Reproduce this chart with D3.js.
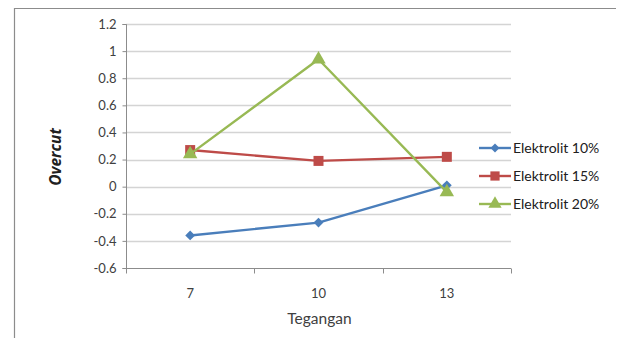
<!DOCTYPE html>
<html>
<head>
<meta charset="utf-8">
<script src="https://cdn.jsdelivr.net/npm/d3@7"></script>
<style>
  body { margin: 0; background: #fff; }
  svg { display: block; font-family: Lato, "Open Sans", sans-serif; }
</style>
</head>
<body>
<svg id="chart" width="618" height="338"></svg>
<script>
// Voltage levels (x categories)
const categories = ["7", "10", "13"];
// Overcut per electrolyte concentration
const elektrolit10 = [-0.36, -0.265, 0.01];
const elektrolit15 = [0.27, 0.19, 0.22];
const elektrolit20 = [0.24, 0.94, -0.04];
const seriesNames = ["Elektrolit 10%", "Elektrolit 15%", "Elektrolit 20%"];
const yTicks = [-0.6, -0.4, -0.2, 0, 0.2, 0.4, 0.6, 0.8, 1, 1.2];
const yTickLabels = ["-0.6", "-0.4", "-0.2", "0", "0.2", "0.4", "0.6", "0.8", "1", "1.2"];

const seriesValues = [elektrolit10, elektrolit15, elektrolit20];
const colors = ["#4a7ebb", "#be4b48", "#98b954"];
const symbols = [d3.symbolSquare, d3.symbolSquare, d3.symbolTriangle];
const symbolSizes = [48, 100, 90];
const symbolRot = [45, 0, 0];

const svg = d3.select("#chart");

// outer chart frame
svg.append("path")
  .attr("d", "M14.5,340 V8.5 H616")
  .attr("fill", "none").attr("stroke", "#8c8c8c").attr("stroke-width", 1.2);

const plot = { left: 126, right: 511, top: 24, bottom: 268 };

const x = d3.scaleBand().domain(categories).range([plot.left, plot.right]);
const y = d3.scaleLinear().domain([-0.6, 1.2]).range([plot.bottom, plot.top]);

// horizontal gridlines
svg.append("g")
  .selectAll("line").data(yTicks.filter(t => t !== -0.6)).join("line")
  .attr("x1", plot.left).attr("x2", plot.right)
  .attr("y1", d => Math.round(y(d)) + 0.5).attr("y2", d => Math.round(y(d)) + 0.5)
  .attr("stroke", "#d4d4d4").attr("stroke-width", 1.3);

// y axis
const yAxis = svg.append("g")
  .attr("transform", `translate(${plot.left + 0.5},0)`)
  .call(d3.axisLeft(y).tickValues(yTicks).tickSize(4).tickPadding(6)
    .tickFormat((d, i) => yTickLabels[i]));
yAxis.select(".domain").attr("stroke", "#8c8c8c").attr("d", `M-4,${plot.top + 0.5}H0V${plot.bottom + 0.5}H-4`);
yAxis.selectAll(".tick line").attr("stroke", "#8c8c8c");
yAxis.selectAll("text").attr("fill", "#404040").style("font-size", "13px").style("font-family", "Lato, sans-serif");

// x axis with ticks on category boundaries
const xg = svg.append("g").attr("transform", `translate(0,${plot.bottom + 0.5})`);
xg.append("line").attr("x1", plot.left).attr("x2", plot.right)
  .attr("stroke", "#8c8c8c");
const bounds = categories.map(c => x(c)).concat([plot.right]);
xg.selectAll("line.tk").data(bounds).join("line").attr("class", "tk")
  .attr("x1", d => Math.round(d) + 0.5).attr("x2", d => Math.round(d) + 0.5)
  .attr("y1", 0).attr("y2", 5).attr("stroke", "#8c8c8c");
xg.selectAll("text").data(categories).join("text")
  .attr("x", d => x(d) + x.bandwidth() / 2).attr("y", 29)
  .attr("text-anchor", "middle").attr("fill", "#404040")
  .style("font-size", "13px").text(d => d);

// axis titles
svg.append("text").attr("x", x("10") + x.bandwidth() / 2 + 1).attr("y", 324)
  .attr("text-anchor", "middle").attr("fill", "#404040")
  .style("font-size", "15.5px").text("Tegangan");
svg.append("text").attr("transform", "translate(61,157) rotate(-90)")
  .attr("text-anchor", "middle").attr("fill", "#202020")
  .style("font-family", "'Open Sans', sans-serif")
  .style("font-size", "15.5px").style("font-weight", "bold").style("font-style", "italic")
  .text("Overcut");

// series lines and markers
const line = d3.line().x((d, i) => x(categories[i]) + x.bandwidth() / 2).y(d => y(d));
seriesValues.forEach((vals, s) => {
  const g = svg.append("g");
  g.append("path").datum(vals).attr("d", line)
    .attr("fill", "none").attr("stroke", colors[s]).attr("stroke-width", 2.4)
    .attr("stroke-linejoin", "round");
  g.selectAll("path.m").data(vals).join("path").attr("class", "m")
    .attr("transform", (d, i) => `translate(${x(categories[i]) + x.bandwidth() / 2},${y(d)}) rotate(${symbolRot[s]})`)
    .attr("d", d3.symbol().type(symbols[s]).size(symbolSizes[s]))
    .attr("fill", colors[s]);
});

// legend
const legend = svg.append("g");
seriesNames.forEach((name, s) => {
  const ly = 148 + s * 28;
  legend.append("line").attr("x1", 479).attr("x2", 511).attr("y1", ly).attr("y2", ly)
    .attr("stroke", colors[s]).attr("stroke-width", 2.4);
  legend.append("path").attr("transform", `translate(495,${ly}) rotate(${symbolRot[s]})`)
    .attr("d", d3.symbol().type(symbols[s]).size(symbolSizes[s] * 0.85))
    .attr("fill", colors[s]);
  legend.append("text").attr("x", 513).attr("y", ly + 5)
    .attr("fill", "#202020").style("font-size", "14px").text(name);
});
</script>
</body>
</html>
